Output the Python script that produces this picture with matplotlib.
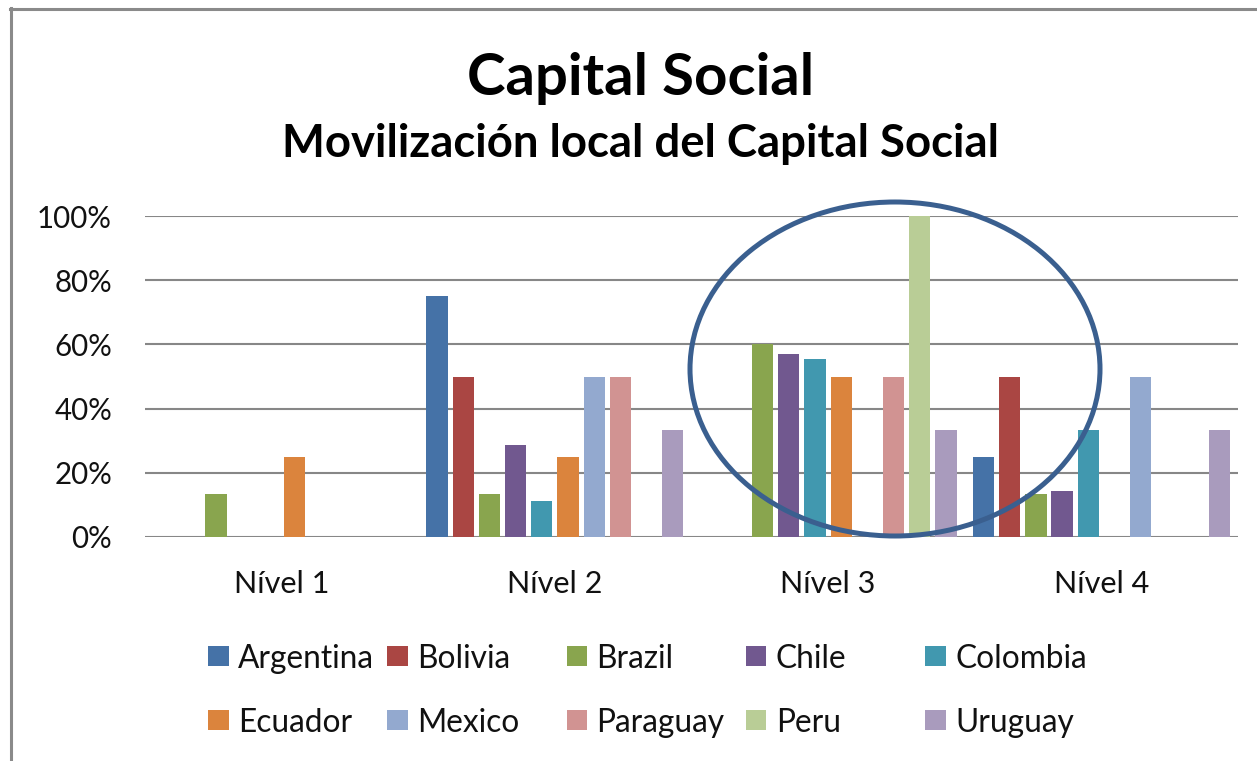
import matplotlib
matplotlib.use("Agg")
import matplotlib.pyplot as plt
import numpy as np
from matplotlib.patches import Ellipse, Rectangle
from matplotlib.lines import Line2D

# ---------------- data ----------------
categories = ["Nível 1", "Nível 2", "Nível 3", "Nível 4"]
countries = ["Argentina", "Bolivia", "Brazil", "Chile", "Colombia",
             "Ecuador", "Mexico", "Paraguay", "Peru", "Uruguay"]
argentina = [0.0, 0.75, 0.0, 0.25]
bolivia   = [0.0, 0.50, 0.0, 0.50]
brazil    = [0.133, 0.133, 0.60, 0.133]
chile     = [0.0, 0.286, 0.571, 0.143]
colombia  = [0.0, 0.111, 0.556, 0.333]
ecuador   = [0.25, 0.25, 0.50, 0.0]
mexico    = [0.0, 0.50, 0.0, 0.50]
paraguay  = [0.0, 0.50, 0.50, 0.0]
peru      = [0.0, 0.0, 1.00, 0.0]
uruguay   = [0.0, 0.333, 0.333, 0.333]
series = [argentina, bolivia, brazil, chile, colombia,
          ecuador, mexico, paraguay, peru, uruguay]
yticks = [0, 0.2, 0.4, 0.6, 0.8, 1.0]
ytick_labels = ["0%", "20%", "40%", "60%", "80%", "100%"]
title = "Capital Social"
subtitle = "Movilización local del Capital Social"

colors = ["#4572A7", "#AA4643", "#89A54E", "#71588F", "#4198AF",
          "#DB843D", "#93A9CF", "#D19392", "#B9CD96", "#A99BBD"]

# ---------------- layout ----------------
W, H = 1257, 761
FONT = "Lato"
fig = plt.figure(figsize=(W / 100, H / 100), dpi=100)
fig.patch.set_facecolor("white")
renderer = fig.canvas.get_renderer()

def fx(px):
    return px / W

def fy(py):
    return 1 - py / H

def fit(text, target, weight="normal"):
    t = fig.text(0, 0, text, fontsize=10, family=FONT, weight=weight)
    w = t.get_window_extent(renderer).width
    t.remove()
    return 10 * target / w

ax_left, ax_right, ax_top, ax_bottom = 145, 1238, 216, 537
ax = fig.add_axes([fx(ax_left), fy(ax_bottom),
                   (ax_right - ax_left) / W, (ax_bottom - ax_top) / H])
ax.set_facecolor("white")

n = len(series)
pitch = 0.0959
barw = 0.078
x = np.arange(len(categories))
for i, (vals, c) in enumerate(zip(series, colors)):
    ax.bar(x + (i - (n - 1) / 2) * pitch, vals, width=barw, color=c,
           edgecolor="none", label=countries[i], zorder=3)

ax.set_xlim(-0.5, len(categories) - 0.5)
ax.set_ylim(0, 1.0)
for s in ax.spines.values():
    s.set_visible(False)
ax.set_yticks(yticks)
ytick_fs = fit("100%", 75)
ax.set_yticklabels(ytick_labels, fontsize=ytick_fs, family=FONT, color="#111111")
ax.tick_params(axis="y", length=0, pad=33 * 0.72)
ax.yaxis.grid(True, color="#878787", linewidth=1.5, zorder=0)
ax.set_axisbelow(True)

cat_fs = fit("Nível 1", 95)
ax.set_xticks(x)
ax.set_xticklabels(categories, fontsize=cat_fs, family=FONT, color="#111111")
ax.tick_params(axis="x", length=0, pad=24)

# titles
fig.text(fx(641), fy(95), title, ha="center", va="baseline",
         fontsize=fit(title, 347, "bold"), weight="bold", family=FONT, color="black")
fig.text(fx(641), fy(157), subtitle, ha="center", va="baseline",
         fontsize=fit(subtitle, 717, "bold"), weight="bold", family=FONT, color="black")

# legend (Excel style, fixed column pitch)
leg_fs = fit("Argentina", 136)
col_x0, col_pitch = 208, 179.3
row_y = [656, 720]
sq = 20.5
for i, name in enumerate(countries):
    r, ccol = divmod(i, 5)
    lx = col_x0 + ccol * col_pitch
    ly = row_y[r]
    fig.add_artist(Rectangle((fx(lx), fy(ly + sq / 2)), sq / W, sq / H,
                             transform=fig.transFigure, facecolor=colors[i],
                             edgecolor="none"))
    fig.text(fx(lx + 30), fy(ly), name, ha="left", va="center_baseline",
             fontsize=leg_fs, family=FONT, color="#111111")

# highlight ellipse (annotation)
fig.add_artist(Ellipse((fx(895), fy(369)), 410 / W, 334 / H,
                       transform=fig.transFigure, fill=False,
                       edgecolor="#3A5F8F", linewidth=3.6, zorder=5))

# chart frame (top and left edges visible)
fig.add_artist(Line2D([fx(10.5), fx(10.5)], [fy(8), 0], transform=fig.transFigure,
                      color="#8A8A8A", linewidth=2.2))
fig.add_artist(Line2D([fx(9.5), 1], [fy(8.5), fy(8.5)], transform=fig.transFigure,
                      color="#8A8A8A", linewidth=2.2))

fig.savefig("out.png", dpi=100, facecolor="white")
